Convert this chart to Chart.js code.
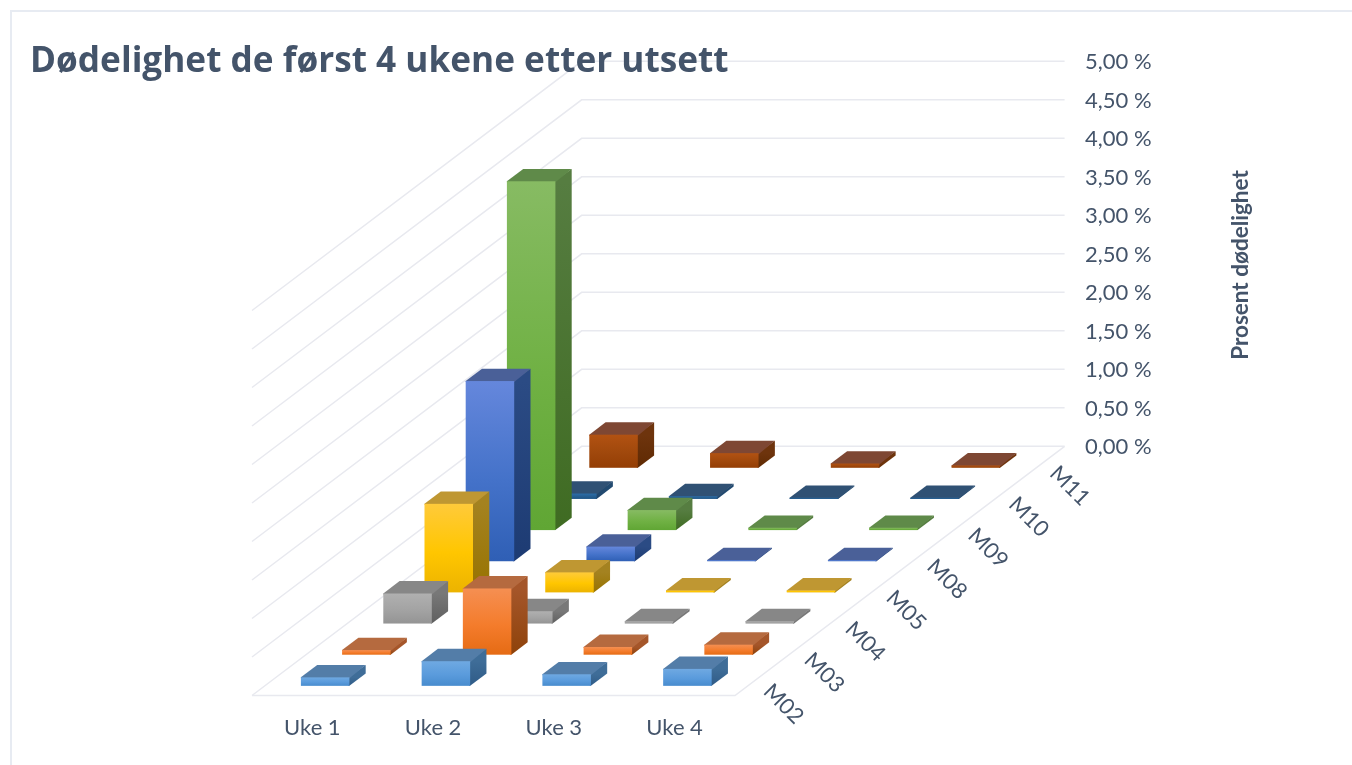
<!DOCTYPE html>
<html>
<head>
<meta charset="utf-8">
<title>Dødelighet</title>
<script src="https://cdn.jsdelivr.net/npm/chart.js@4/dist/chart.umd.min.js"></script>
<style>
  html, body { margin: 0; background: #fff; overflow: hidden; }
  #frame { position: absolute; left: 10px; top: 10px; width: 1360px; height: 780px; border: 2px solid #e7ebf2; }
  canvas { position: absolute; left: 0; top: 0; }
</style>
</head>
<body>
<div id="frame"></div>
<canvas id="chart" width="1352" height="765"></canvas>
<script>
const titleText = "Dødelighet de først 4 ukene etter utsett";
const axisTitle = "Prosent dødelighet";
const weeks = ["Uke 1", "Uke 2", "Uke 3", "Uke 4"];
const seriesNames = ["M02", "M03", "M04", "M05", "M08", "M09", "M10", "M11"];

// prosent, lest av bildet
const m02 = [0.11, 0.32, 0.15, 0.22];
const m03 = [0.06, 0.86, 0.10, 0.13];
const m04 = [0.39, 0.16, 0.03, 0.03];
const m05 = [1.15, 0.26, 0.025, 0.025];
const m08 = [2.34, 0.19, 0.015, 0.015];
const m09 = [4.53, 0.26, 0.03, 0.03];
const m10 = [0.07, 0.035, 0.015, 0.015];
const m11 = [0.43, 0.19, 0.055, 0.03];
const seriesValues = [m02, m03, m04, m05, m08, m09, m10, m11];

// front topp, front midt, front bunn, side topp, side bunn, tak
const palette = [
  ["#6fa9e2", "#5a9bdc", "#488cce", "#3f6d98", "#2f5b87", "#537da8"],
  ["#f58f52", "#f47c2c", "#e56b14", "#a5562a", "#8e420a", "#b56a3f"],
  ["#b0b0b0", "#a3a3a3", "#949494", "#787878", "#5f5f5f", "#878787"],
  ["#ffca3a", "#ffc600", "#ecb300", "#a48220", "#977300", "#bf9732"],
  ["#6587dc", "#4472c9", "#2f5fb5", "#2b4b84", "#1d3b73", "#4a6098"],
  ["#87bb63", "#70b144", "#60a634", "#567d41", "#3f6b22", "#5f8a49"],
  ["#2c6da8", "#255e91", "#1e5485", "#224a70", "#1b4068", "#305174"],
  ["#b25212", "#a0480c", "#943e04", "#6e340d", "#5f2a03", "#7e4733"]
];

const textColor = "#44546a";
const gridColor = "#e8e9ef";
const fontName = "Lato, 'Open Sans', sans-serif";

// projeksjon av dybden (per serie)
const DEPTH_DX = 41.2;
const DEPTH_DY = 31.15;
const DEPTHS = seriesNames.length;
const BAR_W = 48.5;
const BAR_NEAR = 0.31;
const BAR_DX = 16.3;
const BAR_DY = 12.4;

function floorOffset(depth) {
  return (DEPTHS - depth) * DEPTH_DY;
}

class Bar3D extends Chart.BarController {
  draw() {
    const ctx = this.chart.ctx;
    const meta = this.getMeta();
    const xs = meta.xScale, ys = meta.yScale;
    const colors = palette[this.index];
    const depth = this.index + BAR_NEAR;
    meta.data.forEach((el, i) => {
      const p = this.getParsed(i);
      const left = xs.getPixelForValue(p.x) + depth * DEPTH_DX - BAR_W / 2;
      const right = left + BAR_W;
      const base = ys.getPixelForValue(0) + floorOffset(depth);
      const top = ys.getPixelForValue(p.y) + floorOffset(depth);

      // sidene går litt inn under fronten, ellers skinner baren bak gjennom skjøten
      const side = ctx.createLinearGradient(0, top, 0, base);
      side.addColorStop(0, colors[3]);
      side.addColorStop(1, colors[4]);
      ctx.fillStyle = side;
      ctx.beginPath();
      ctx.moveTo(right - 1, top);
      ctx.lineTo(right + BAR_DX, top - BAR_DY);
      ctx.lineTo(right + BAR_DX, base - BAR_DY);
      ctx.lineTo(right, base);
      ctx.lineTo(right - 1, base);
      ctx.closePath();
      ctx.fill();

      ctx.fillStyle = colors[5];
      ctx.beginPath();
      ctx.moveTo(left, top);
      ctx.lineTo(left + BAR_DX, top - BAR_DY);
      ctx.lineTo(right + BAR_DX, top - BAR_DY);
      ctx.lineTo(right, top + 1);
      ctx.lineTo(left, top + 1);
      ctx.closePath();
      ctx.fill();

      const front = ctx.createLinearGradient(0, top, 0, base);
      front.addColorStop(0, colors[0]);
      front.addColorStop(0.55, colors[1]);
      front.addColorStop(1, colors[2]);
      ctx.fillStyle = front;
      ctx.fillRect(left, top, BAR_W, Math.max(base - top, 1));
    });
  }
}
Bar3D.id = "bar3d";
Bar3D.defaults = Chart.BarController.defaults;
Bar3D.overrides = Chart.BarController.overrides;
Chart.register(Bar3D);

// vegger, gulv, serieetiketter og aksetittel
const walls = {
  id: "walls",
  beforeDraw(chart) {
    const ctx = chart.ctx;
    const xs = chart.scales.x, ys = chart.scales.y;
    const x0 = xs.getPixelForValue(0);
    const x1 = xs.getPixelForValue(weeks.length);
    const dx = DEPTHS * DEPTH_DX, dy = DEPTHS * DEPTH_DY;
    ctx.save();
    ctx.strokeStyle = gridColor;
    ctx.lineWidth = 1.5;
    ys.ticks.forEach(t => {
      const y = ys.getPixelForValue(t.value);
      ctx.beginPath();
      ctx.moveTo(x0, y + dy);
      ctx.lineTo(x0 + dx, y);
      ctx.lineTo(x1 + dx, y);
      ctx.stroke();
    });
    const y0 = ys.getPixelForValue(0);
    ctx.beginPath();
    ctx.moveTo(x0, y0 + dy);
    ctx.lineTo(x1, y0 + dy);
    ctx.lineTo(x1 + dx, y0);
    ctx.stroke();
    ctx.restore();
  },
  afterDatasetsDraw(chart) {
    const ctx = chart.ctx;
    const xs = chart.scales.x, ys = chart.scales.y;
    const x1 = xs.getPixelForValue(weeks.length);
    const y0 = ys.getPixelForValue(0);
    ctx.save();
    ctx.fillStyle = textColor;
    ctx.font = "22px " + fontName;
    ctx.textAlign = "center";
    ctx.textBaseline = "middle";
    seriesNames.forEach((name, s) => {
      const d = s + 0.5;
      ctx.save();
      ctx.translate(x1 + d * 40.9 + 28, y0 + floorOffset(d) + 24);
      ctx.rotate(Math.PI / 4);
      ctx.fillText(name, 0, 0);
      ctx.restore();
    });
    ctx.font = "bold 22.5px " + fontName;
    ctx.translate(1241, 265);
    ctx.rotate(-Math.PI / 2);
    ctx.fillText(axisTitle, 0, 0);
    ctx.restore();
  }
};

new Chart(document.getElementById("chart"), {
  type: "bar3d",
  data: {
    datasets: seriesNames.map((name, s) => ({
      label: name,
      data: seriesValues[s].map((v, i) => ({ x: i + 0.5, y: v }))
    }))
  },
  options: {
    responsive: false,
    animation: false,
    layout: { padding: { left: 30, right: 0, top: 0, bottom: 0 } },
    plugins: {
      legend: { display: false },
      tooltip: { enabled: false },
      title: {
        display: true,
        text: titleText,
        align: "start",
        color: textColor,
        font: { family: "'Open Sans', Lato, sans-serif", size: 35.2, weight: "bold" },
        padding: { top: 41, bottom: -21.94 }
      }
    },
    scales: {
      x: {
        type: "linear",
        position: "bottom",
        offset: false,
        min: (30 - 252) / 120.75,
        max: (1064 - 252) / 120.75,
        grid: { display: false },
        border: { display: false },
        afterBuildTicks: axis => { axis.ticks = weeks.map((w, i) => ({ value: i + 0.5 })); },
        afterFit: axis => { axis.height = 69.5; },
        ticks: {
          autoSkip: false,
          maxRotation: 0,
          padding: 11,
          color: textColor,
          font: { family: fontName, size: 22 },
          callback: v => weeks[v - 0.5]
        }
      },
      y: {
        type: "linear",
        position: "right",
        min: 5 - 634.2 / 77,
        max: 5,
        grid: { display: false },
        border: { display: false },
        afterBuildTicks: axis => { axis.ticks = axis.ticks.filter(t => t.value >= 0); },
        afterFit: axis => { axis.width = 288; },
        ticks: {
          stepSize: 0.5,
          padding: 13,
          labelOffset: 1,
          color: textColor,
          font: { family: fontName, size: 22 },
          callback: v => v.toFixed(2).replace(".", ",") + " %"
        }
      }
    }
  },
  plugins: [walls]
});
</script>
</body>
</html>
